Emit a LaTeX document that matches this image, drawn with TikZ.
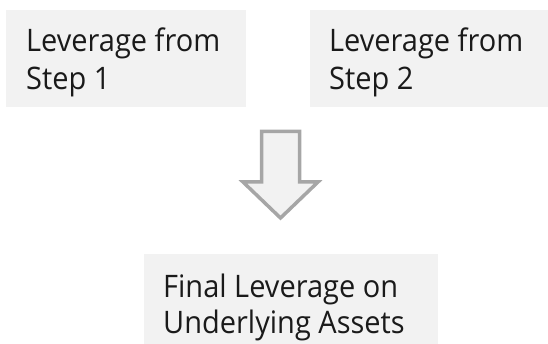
\documentclass[tikz,border=0pt]{standalone}
\usepackage{fontspec}
\setmainfont{Open Sans}[FakeStretch=0.935]
\definecolor{boxfill}{HTML}{F2F2F2}
\definecolor{arrowline}{HTML}{A6A6A6}
\definecolor{txt}{HTML}{1A1A1A}
\tikzset{
  graybox/.style={fill=boxfill, draw=none},
  lbl/.style={anchor=base west, inner sep=0pt, text=txt, font=\fontsize{31}{37}\selectfont},
  hollowarrow/.style={fill=boxfill, draw=arrowline, line width=3.5pt, line join=miter}
}
\begin{document}
\begin{tikzpicture}[x=1pt,y=-1pt]
\useasboundingbox (0,0) rectangle (548,344);
% boxes
\fill[graybox] (6,10) rectangle (246,107);
\fill[graybox] (310,10) rectangle (548,107);
\fill[graybox] (144,254) rectangle (438,344);
% texts
\node[lbl] (t1a) at (26,52) {Leverage from};
\node[lbl] (t1b) at (26,89.5) {Step 1};
\node[lbl] (t2a) at (329,52) {Leverage from};
\node[lbl] (t2b) at (329,89.5) {Step 2};
\node[lbl] (t3a) at (163,297) {Final Leverage on};
\node[lbl] (t3b) at (163,333) {Underlying Assets};
% arrow
\draw[hollowarrow] (261.5,131.5) -- (299.5,131.5) -- (299.5,182) -- (318,182) -- (280.5,218) -- (243,182) -- (261.5,182) -- cycle;
\end{tikzpicture}
\end{document}
